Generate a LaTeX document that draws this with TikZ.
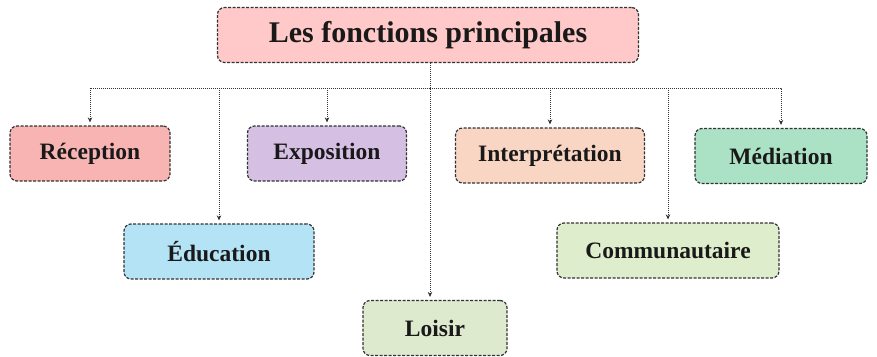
\documentclass[tikz,border=0pt]{standalone}
\usepackage{fontspec}
\setmainfont{Liberation Serif}
\usepackage{xcolor}
\usetikzlibrary{positioning, arrows.meta, calc}

\definecolor{titlepink}{HTML}{FFC9C9}
\definecolor{recpink}{HTML}{F8B3B3}
\definecolor{expolilac}{HTML}{D5C0E4}
\definecolor{edublue}{HTML}{B5E3F6}
\definecolor{loisgreen}{HTML}{DDEACD}
\definecolor{interpeach}{HTML}{F9D5C3}
\definecolor{medmint}{HTML}{ABE1C4}
\definecolor{commgreen}{HTML}{DEEDCB}

\begin{document}
\begin{tikzpicture}[
                x=1pt, y=-1pt,
                fn_box/.style={rectangle, draw=black!80, line width=1.2pt, dash pattern=on 3pt off 1.5pt,
                    rounded corners=7pt, minimum height=55pt,
                    font=\bfseries\fontsize{23.5}{26}\selectfont, text=black!90, inner sep=2pt},
                link_arrow/.style={-{Stealth[length=5pt, width=4.5pt]}, line width=1pt,
                    dash pattern=on 1pt off 1pt, black!80, shorten >=3pt}
            ]
                \useasboundingbox (0,0) rectangle (877,356);

                % Title
                \node[fn_box, fill=titlepink, minimum width=421pt, minimum height=55pt,
                      font=\bfseries\fontsize{30}{34}\selectfont] (title) at (428,35) {Les fonctions principales};
                \coordinate (bus) at (430,88);

                % Upper row
                \node[fn_box, fill=recpink, minimum width=160pt] (reception) at (90,153.5) {Réception};
                \node[fn_box, fill=expolilac, minimum width=159pt] (exposition) at (327,153.5) {Exposition};
                \node[fn_box, fill=interpeach, minimum width=189pt] (interpretation) at (550,155.5) {Interprétation};
                \node[fn_box, fill=medmint, minimum width=172pt] (mediation) at (781,156) {Médiation};

                % Lower row
                \node[fn_box, fill=edublue, minimum width=190pt] (education) at (219,251.5) {Éducation};
                \node[fn_box, fill=commgreen, minimum width=222pt] (communautaire) at (668,250.5) {Communautaire};
                \node[fn_box, fill=loisgreen, minimum width=144pt] (loisir) at (435,328) {Loisir};

                % Connectors
                \draw[link_arrow] (bus |- title.south) -- (bus |- loisir.north);
                \draw[link_arrow] (bus) -| (reception.north);
                \draw[link_arrow] (bus) -| (mediation.north);
                \draw[link_arrow] (bus -| education.north) -- (education.north);
                \draw[link_arrow] (bus -| exposition.north) -- (exposition.north);
                \draw[link_arrow] (bus -| interpretation.north) -- (interpretation.north);
                \draw[link_arrow] (bus -| communautaire.north) -- (communautaire.north);

            \end{tikzpicture}
\end{document}
